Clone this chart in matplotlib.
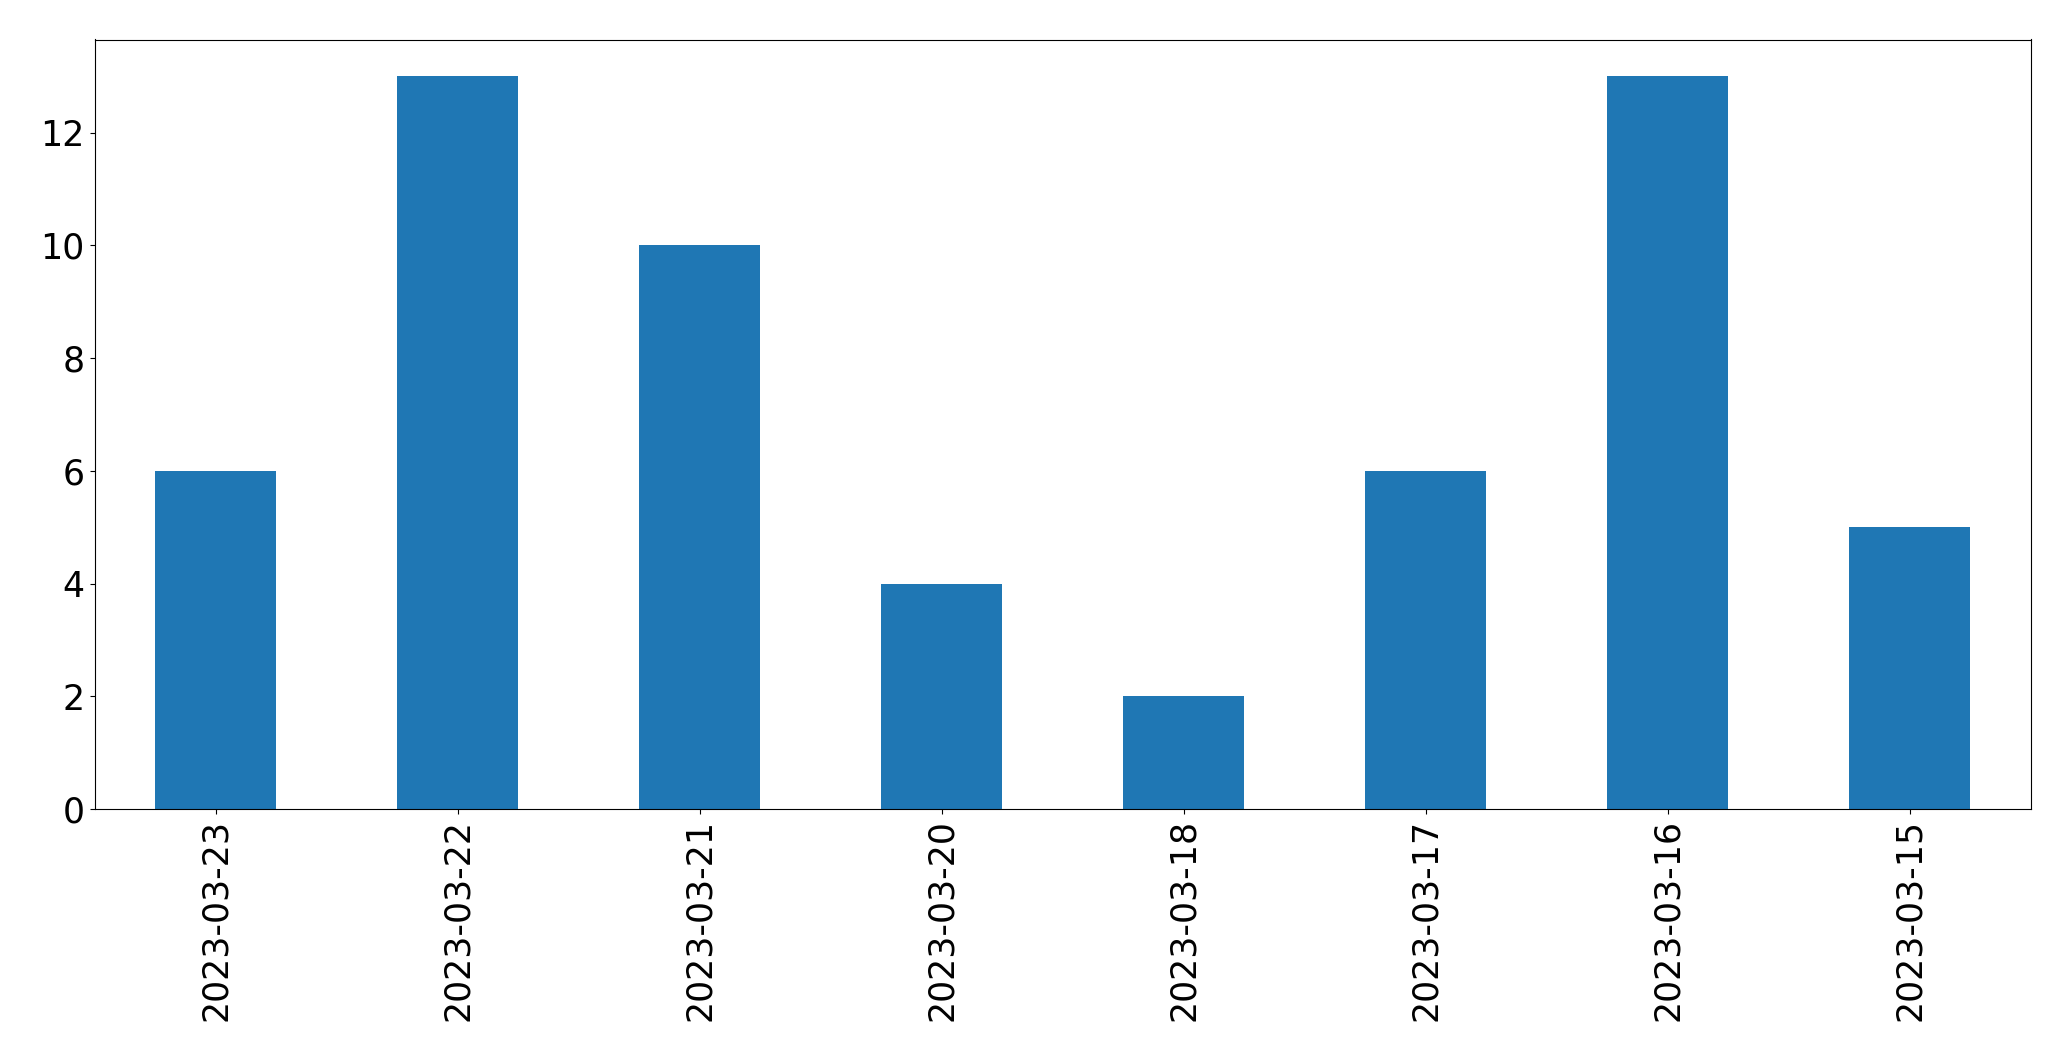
import pandas as pd
import matplotlib
matplotlib.use('Agg')
import matplotlib.pyplot as plt

# counts per day, in the order shown
dates = ['2023-03-23', '2023-03-22', '2023-03-21', '2023-03-20',
         '2023-03-18', '2023-03-17', '2023-03-16', '2023-03-15']
counts = [6, 13, 10, 4, 2, 6, 13, 5]

s = pd.Series(counts, index=dates)

fig, ax = plt.subplots(figsize=(20.71, 10.61), dpi=100)
s.plot(kind='bar', ax=ax, color='#1f77b4', fontsize=25)
fig.subplots_adjust(left=94.5 / 2071, right=2031 / 2071, top=1 - 39.5 / 1061, bottom=1 - 809 / 1061)
fig.savefig('out.png', dpi=100)
